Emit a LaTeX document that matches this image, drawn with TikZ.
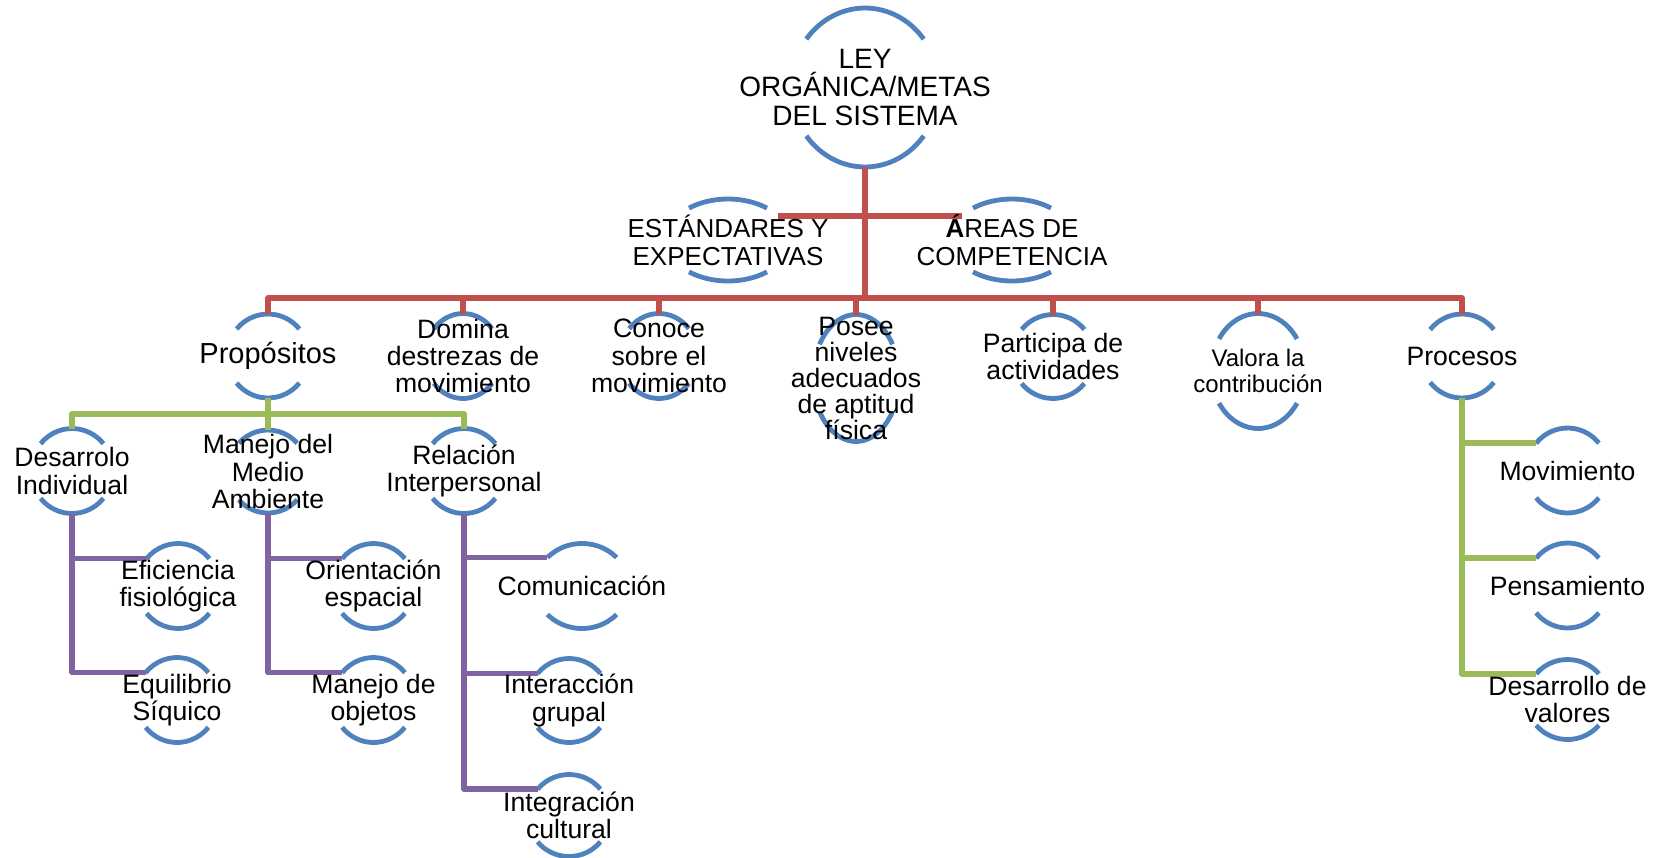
\documentclass[tikz,border=0pt]{standalone}
\usepackage{fontspec}
\setmainfont{Liberation Sans}
\usetikzlibrary{backgrounds}
\definecolor{arcblue}{HTML}{4F81BD}
\definecolor{linered}{HTML}{C0504D}
\definecolor{linegreen}{HTML}{9BBB59}
\definecolor{linepurple}{HTML}{8064A2}

\begin{document}
\begin{tikzpicture}[x=0.5pt, y=-0.5pt,
		lbl/.style={font=\fontsize{13.3}{13.7}\selectfont, align=center, inner sep=0pt},
		arcline/.style={draw=arcblue, line width=2.4pt},
		redline/.style={draw=linered, line width=2.7pt, line join=round},
		greenline/.style={draw=linegreen, line width=2.7pt, line join=round},
		purpleline/.style={draw=linepurple, line width=2.7pt, line join=round}]
	\useasboundingbox (0,0) rectangle (1658,857);
	% top of the tree
	\node[lbl, font=\fontsize{14}{14.2}\selectfont] (ley) at (865,87.5) {LEY\\ORGÁNICA/METAS\\DEL SISTEMA};
	\node[lbl, font=\fontsize{13}{14}\selectfont] (est) at (728,240) {ESTÁNDARES Y\\EXPECTATIVAS};
	\node[lbl, font=\fontsize{13}{14}\selectfont] (are) at (1012,240) {{\bfseries Á}REAS DE\\COMPETENCIA};
	% second row
	\node[lbl, font=\fontsize{14.5}{15}\selectfont] (prop) at (268,356) {Propósitos};
	\node[lbl] (dom) at (463,356) {Domina\\destrezas de\\movimiento};
	\node[lbl] (con) at (659,356) {Conoce\\sobre el\\movimiento};
	\node[lbl, font=\fontsize{13.3}{13}\selectfont] (pos) at (856,378) {Posee\\niveles\\adecuados\\de aptitud\\física};
	\node[lbl] (par) at (1053,356.5) {Participa de\\actividades};
	\node[lbl, font=\fontsize{12}{13}\selectfont] (val) at (1258,371) {Valora la\\contribución};
	\node[lbl] (proc) at (1462,356) {Procesos};
	% third row
	\node[lbl] (des) at (72,471) {Desarrolo\\Individual};
	\node[lbl] (man) at (268,471.5) {Manejo del\\Medio\\Ambiente};
	\node[lbl] (rel) at (464,471) {Relación\\Interpersonal};
	\node[lbl] (efi) at (178,586) {Eficiencia\\fisiológica};
	\node[lbl] (equ) at (177,700) {Equilibrio\\Síquico};
	\node[lbl] (ori) at (373.5,586) {Orientación\\espacial};
	\node[lbl] (obj) at (373.5,700) {Manejo de\\objetos};
	\node[lbl] (com) at (582,586) {Comunicación};
	\node[lbl] (inte) at (569,700.5) {Interacción\\grupal};
	\node[lbl] (intg) at (569,815.5) {Integración\\cultural};
	\node[lbl] (mov) at (1567.5,470.5) {Movimiento};
	\node[lbl] (pen) at (1567.5,585.5) {Pensamiento};
	\node[lbl] (dva) at (1567.5,699.5) {Desarrollo de\\valores};

	\begin{scope}[on background layer]
		% two arcs round every node
		\foreach \n/\rx/\ry/\ang in {ley/74/79.5/37.5, est/62/41/51, are/62/41/51,
				prop/41/42/40, dom/38/42.5/40, con/39/42.5/40, pos/43/63.5/32, par/41/42/40,
				val/47/57.5/34, proc/41/42/39, des/41/42.5/40, man/40/41.5/43, rel/41/42.5/40,
				efi/41/42.5/40, equ/41/42.5/40, ori/41/42.5/40, obj/41/42.5/40, com/46.5/42.5/42,
				inte/41/42/40, intg/41/41/40, mov/41/42.5/40, pen/41/42.5/40, dva/41/40/40}{
			\draw[arcline] (\n.center) ++({-\rx*cos(\ang)},{-\ry*sin(\ang)}) arc[start angle=180+\ang, end angle=360-\ang, x radius=\rx, y radius=\ry];
			\draw[arcline] (\n.center) ++({\rx*cos(\ang)},{\ry*sin(\ang)}) arc[start angle=\ang, end angle=180-\ang, x radius=\rx, y radius=\ry];
			\path (\n.center) ++(0,-\ry) coordinate (\n-top);
			\path (\n.center) ++(0,\ry) coordinate (\n-bot);
			\path (\n.center) ++({-\rx*cos(\ang)},{-\ry*sin(\ang)}) coordinate (\n-tl);
		}
		\coordinate (hub) at (865,298);
		\coordinate (gbar) at (268,414);
		\path (est.center) ++(50.3,-24) coordinate (est-r);
		\path (are.center) ++(-50.3,-24) coordinate (are-l);

		\draw[redline] (ley-bot) -- (hub);
		\draw[redline] (est-r) -- (are-l);
		\foreach \n in {prop,dom,con,pos,par,val,proc}
			\draw[redline] (hub) -| (\n-top);

		\draw[greenline] (prop-bot) -- (gbar);
		\foreach \n in {des,man,rel}
			\draw[greenline] (gbar) -| (\n-top);
		\foreach \c in {mov,pen,dva}
			\draw[greenline] (proc-bot) |- (\c-tl);

		\foreach \p/\c in {des/efi, des/equ, man/ori, man/obj, rel/com, rel/inte, rel/intg}
			\draw[purpleline] (\p-bot) |- (\c-tl);
	\end{scope}
\end{tikzpicture}
\end{document}
